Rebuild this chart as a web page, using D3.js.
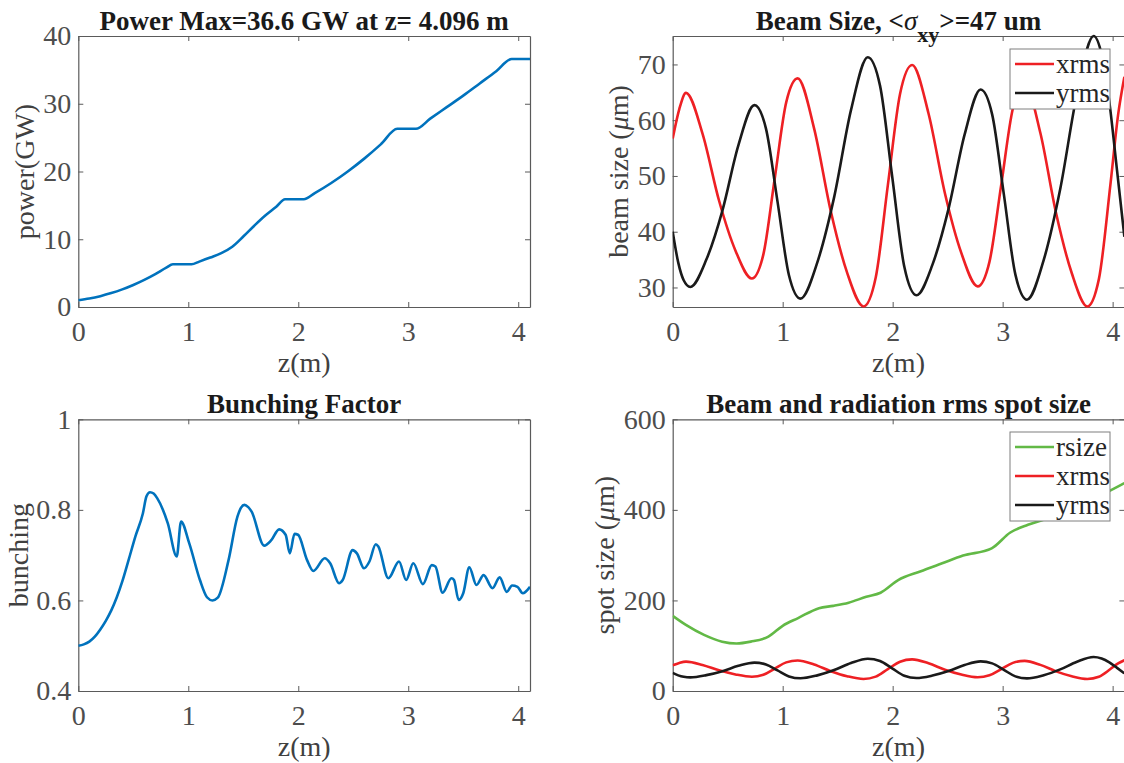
<!DOCTYPE html>
<html>
<head>
<meta charset="utf-8">
<script src="https://cdn.jsdelivr.net/npm/d3@7"></script>
<style>
    body { margin: 0; background: #fff; }
    svg text { font-family: "Liberation Serif", "Times New Roman", serif; }
</style>
</head>
<body>
<svg id="chart" width="1124" height="763"></svg>
<script>
// z axis (m), shared by all four panels
var zMax = 4.107;
var zTicks = [0, 1, 2, 3, 4];

// power along the undulator
var powerZ = [0, 0.1, 0.2, 0.3, 0.4, 0.5, 0.6, 0.7, 0.8, 0.86, 1.03, 1.1, 1.2, 1.3, 1.4, 1.5, 1.6, 1.7, 1.8, 1.88,
    2.05, 2.15, 2.3, 2.45, 2.6, 2.75, 2.9, 3.07, 3.2, 3.35, 3.5, 3.65, 3.8, 3.94, 4.107];
var powerGW = [1.0, 1.25, 1.6, 2.05, 2.6, 3.25, 4.0, 4.85, 5.8, 6.3, 6.3, 6.7, 7.3, 7.95, 8.9, 10.4, 12.0, 13.5, 14.8, 15.9,
    15.9, 16.8, 18.3, 20.0, 21.9, 24.0, 26.3, 26.3, 27.8, 29.5, 31.2, 33.0, 34.8, 36.6, 36.6];
var powerTicks = [0, 10, 20, 30, 40];

// beam envelope
var xrmsZ = [0, 0.06, 0.121, 0.271, 0.421, 0.571, 0.72, 0.824, 0.928, 1.032, 1.136, 1.286, 1.436, 1.585, 1.735,
    1.846, 1.956, 2.067, 2.177, 2.326, 2.475, 2.624, 2.773, 2.88, 2.987, 3.093, 3.2, 3.343, 3.485, 3.628, 3.77,
    3.875, 3.98, 4.05, 4.107];
var xrms = [56.7, 62.0, 64.9, 57.6, 45.6, 36.6, 31.6, 35.9, 49.6, 63.2, 67.5, 58.5, 43.8, 32.7, 26.6,
    31.8, 48.3, 64.7, 69.9, 61.2, 46.9, 36.2, 30.2, 34.6, 48.4, 62.1, 66.5, 57.7, 43.4, 32.6, 26.6,
    31.5, 48.5, 61.0, 67.8];
var yrmsZ = [0, 0.05, 0.1, 0.16, 0.306, 0.452, 0.597, 0.743, 0.848, 0.953, 1.057, 1.162, 1.315, 1.468, 1.621, 1.774,
    1.885, 1.995, 2.106, 2.216, 2.362, 2.508, 2.654, 2.8, 2.905, 3.011, 3.116, 3.221, 3.373, 3.524, 3.676, 3.827,
    3.9, 3.97, 4.04, 4.107];
var yrms = [40.0, 34.5, 31.3, 30.1, 35.0, 43.8, 55.5, 62.7, 58.5, 45.4, 32.2, 28.0, 34.5, 46.2, 61.8, 71.3,
    66.2, 50.0, 33.7, 28.6, 34.1, 44.1, 57.4, 65.5, 61.0, 46.7, 32.3, 27.8, 34.9, 47.7, 64.7, 75.1,
    71.8, 63.3, 51.0, 39.1];
var beamTicks = [30, 40, 50, 60, 70];

// bunching factor
var bunchZ = [0, 0.05, 0.1, 0.15, 0.2, 0.25, 0.3, 0.35, 0.4, 0.457, 0.52, 0.587, 0.62, 0.652, 0.685, 0.717, 0.814, 0.895,
    0.934, 1.009, 1.106, 1.17, 1.22, 1.268, 1.366, 1.447, 1.48, 1.511, 1.545, 1.576, 1.69, 1.755, 1.826, 1.885, 1.923,
    1.966, 1.998, 2.08, 2.137, 2.241, 2.29, 2.371, 2.404, 2.494, 2.533, 2.598, 2.647, 2.705, 2.728, 2.819, 2.916,
    2.981, 3.046, 3.133, 3.214, 3.247, 3.312, 3.393, 3.416, 3.458, 3.5, 3.555, 3.62, 3.685, 3.766, 3.831, 3.896,
    3.944, 3.993, 4.042, 4.107];
var bunching = [0.500, 0.503, 0.509, 0.52, 0.536, 0.555, 0.578, 0.607, 0.642, 0.689, 0.742, 0.792, 0.83, 0.839, 0.836, 0.826,
    0.770, 0.697, 0.774, 0.726, 0.645, 0.607, 0.600, 0.606, 0.689, 0.785, 0.805, 0.811, 0.806, 0.796, 0.721, 0.733,
    0.757, 0.745, 0.704, 0.747, 0.745, 0.689, 0.665, 0.693, 0.682, 0.638, 0.645, 0.711, 0.704, 0.671, 0.686,
    0.724, 0.719, 0.649, 0.686, 0.645, 0.682, 0.636, 0.678, 0.675, 0.617, 0.649, 0.645, 0.601, 0.616, 0.673,
    0.634, 0.656, 0.627, 0.651, 0.619, 0.633, 0.630, 0.616, 0.630];
var bunchTicks = [0.4, 0.6, 0.8, 1];

// radiation spot size
var rsizeZ = [0, 0.12, 0.285, 0.45, 0.58, 0.71, 0.87, 1.0, 1.14, 1.33, 1.46, 1.6, 1.76, 1.89, 2.05, 2.25, 2.45,
    2.64, 2.9, 3.07, 3.23, 3.4, 3.56, 3.75, 3.94, 4.107];
var rsize = [166, 146, 124, 109, 105, 109, 120, 144, 161, 183, 188, 195, 208, 217, 245, 264, 282,
    299, 315, 350, 367, 381, 398, 418, 438, 459];
var spotTicks = [0, 200, 400, 600];

var colBlue = '#0072bd', colRed = '#ee2024', colBlack = '#1a1a1a', colGreen = '#62b946';

var svg = d3.select('#chart');
var clipId = 0;

function pairs(xs, ys) {
    return xs.map(function(x, i) { return [x, ys[i]]; });
}

function drawPanel(p) {
    var x = d3.scaleLinear().domain([0, zMax]).range([p.left, p.left + 451.7]);
    var y = d3.scaleLinear().domain(p.yDomain).range([p.bottom, p.top]);
    var g = svg.append('g');

    // box with inward ticks on all four sides
    g.append('g').attr('transform', 'translate(0,' + p.bottom + ')')
        .call(d3.axisBottom(x).tickValues(zTicks).tickSizeInner(-5).tickSizeOuter(0).tickPadding(14).tickFormat(d3.format('d')));
    g.append('g').attr('transform', 'translate(0,' + p.top + ')')
        .call(d3.axisTop(x).tickValues(zTicks).tickSizeInner(-5).tickSizeOuter(0).tickFormat(''));
    g.append('g').attr('transform', 'translate(' + p.left + ',0)')
        .call(d3.axisLeft(y).tickValues(p.yTicks).tickSizeInner(-5).tickSizeOuter(0).tickPadding(7).tickFormat(p.fmt));
    g.append('g').attr('transform', 'translate(' + x(zMax) + ',0)')
        .call(d3.axisRight(y).tickValues(p.yTicks).tickSizeInner(-5).tickSizeOuter(0).tickFormat(''));

    g.selectAll('.domain').attr('stroke', '#5a5a5a').attr('stroke-width', 1.2);
    g.selectAll('.tick line').attr('stroke', '#5a5a5a');
    g.selectAll('.tick text').attr('fill', '#4d4d4d').style('font-size', '28px')
        .style('font-family', '"Liberation Serif", serif');

    var cid = 'clip' + (clipId++);
    svg.append('clipPath').attr('id', cid).append('rect')
        .attr('x', p.left).attr('y', p.top - 2)
        .attr('width', x(zMax) - p.left).attr('height', p.bottom - p.top + 4);

    var line = d3.line()
        .x(function(d) { return x(d[0]); })
        .y(function(d) { return y(d[1]); })
        .curve(d3.curveMonotoneX);

    var lines = g.append('g').attr('clip-path', 'url(#' + cid + ')');
    p.series.forEach(function(s) {
        lines.append('path')
            .datum(pairs(s.z, s.v))
            .attr('fill', 'none')
            .attr('stroke', s.color)
            .attr('stroke-width', 2.6)
            .attr('stroke-linejoin', 'round')
            .attr('d', line);
    });

    // x label
    g.append('text')
        .attr('x', (p.left + x(zMax)) / 2).attr('y', p.bottom + 65)
        .attr('text-anchor', 'middle').attr('fill', '#404040')
        .style('font-size', '28px').text('z(m)');

    // y label
    var yl = g.append('text')
        .attr('transform', 'translate(' + p.ylabelX + ',' + (p.top + p.bottom) / 2 + ') rotate(-90)')
        .attr('text-anchor', 'middle').attr('fill', '#404040')
        .style('font-size', '28px');
    p.ylabel(yl);

    // title
    var t = g.append('text')
        .attr('x', p.titleX || (p.left + x(zMax)) / 2).attr('y', p.top - 6)
        .attr('text-anchor', 'middle').attr('fill', '#1a1a1a')
        .style('font-size', '27px').style('font-weight', 'bold');
    p.title(t);

    if (p.legend) {
        var lg = g.append('g');
        lg.append('rect')
            .attr('x', p.legend.x).attr('y', p.legend.y)
            .attr('width', 100).attr('height', p.legend.items.length * 29 + 2)
            .attr('fill', '#fff').attr('stroke', '#7f7f7f').attr('stroke-width', 1);
        p.legend.items.forEach(function(it, i) {
            var cy = p.legend.y + 15 + i * 29;
            lg.append('line')
                .attr('x1', p.legend.x + 5).attr('x2', p.legend.x + 44)
                .attr('y1', cy).attr('y2', cy)
                .attr('stroke', it.color).attr('stroke-width', 2.6);
            lg.append('text')
                .attr('x', p.legend.x + 46).attr('y', cy + 9)
                .attr('fill', '#262626').style('font-size', '27px')
                .text(it.name);
        });
    }
}

function plain(s) {
    return function(el) { el.text(s); };
}

function micro(pre) {
    return function(el) {
        el.append('tspan').text(pre + ' (');
        el.append('tspan').style('font-style', 'italic').text('\u03bc');
        el.append('tspan').text('m)');
    };
}

drawPanel({
    left: 78.3, top: 36, bottom: 307,
    yDomain: [0, 40], yTicks: powerTicks, fmt: d3.format('d'),
    title: plain('Power Max=36.6 GW at z= 4.096 m'),
    ylabel: plain('power(GW)'), ylabelX: 34,
    series: [{ z: powerZ, v: powerGW, color: colBlue }]
});

drawPanel({
    left: 672.7, top: 36, bottom: 307,
    yDomain: [26.5, 75.1], yTicks: beamTicks, fmt: d3.format('d'),
    title: function(el) {
        el.append('tspan').text('Beam Size, <');
        el.append('tspan').style('font-style', 'italic').style('font-weight', 'normal').text('\u03c3');
        el.append('tspan').attr('dy', 12).style('font-size', '22px').text('xy');
        el.append('tspan').attr('dy', -12).text('>=47 um');
    },
    ylabel: micro('beam size'), ylabelX: 628,
    series: [{ z: xrmsZ, v: xrms, color: colRed }, { z: yrmsZ, v: yrms, color: colBlack }],
    legend: { x: 1010, y: 49, items: [{ name: 'xrms', color: colRed }, { name: 'yrms', color: colBlack }] }
});

drawPanel({
    left: 78.3, top: 419.3, bottom: 691,
    yDomain: [0.4, 1], yTicks: bunchTicks, fmt: d3.format('~g'),
    title: plain('Bunching Factor'),
    ylabel: plain('bunching'), ylabelX: 28,
    series: [{ z: bunchZ, v: bunching, color: colBlue }]
});

drawPanel({
    left: 672.7, top: 419.3, bottom: 691,
    yDomain: [0, 600], yTicks: spotTicks, fmt: d3.format('d'),
    title: plain('Beam and radiation rms spot size'),
    ylabel: micro('spot size'), ylabelX: 614,
    series: [{ z: rsizeZ, v: rsize, color: colGreen }, { z: xrmsZ, v: xrms, color: colRed }, { z: yrmsZ, v: yrms, color: colBlack }],
    legend: { x: 1010, y: 432, items: [{ name: 'rsize', color: colGreen }, { name: 'xrms', color: colRed }, { name: 'yrms', color: colBlack }] }
});
</script>
</body>
</html>
